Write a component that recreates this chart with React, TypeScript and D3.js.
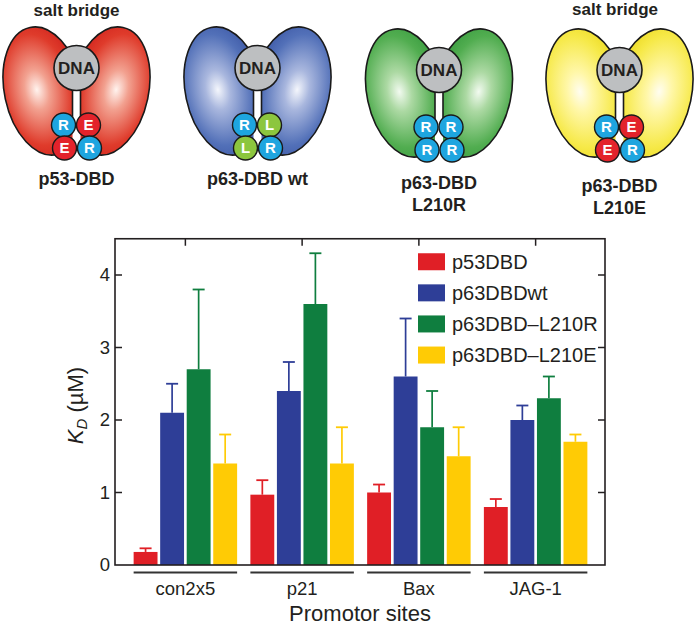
import React from "react";
import * as d3 from "d3";

// Promotor sites on the x axis
const CATEGORIES = ["con2x5", "p21", "Bax", "JAG-1"];
const SERIES = ["p53DBD", "p63DBDwt", "p63DBD–L210R", "p63DBD–L210E"];
const BAR_COLORS = ["#e01f26", "#2e3e97", "#0f7e3f", "#ffcb05"];

// K_D values (µM) per series, same order as CATEGORIES
const P53_KD = [0.18, 0.97, 1.0, 0.8];
const P53_ERR = [0.05, 0.2, 0.11, 0.11];
const WT_KD = [2.1, 2.4, 2.6, 2.0];
const WT_ERR = [0.4, 0.4, 0.8, 0.2];
const L210R_KD = [2.7, 3.6, 1.9, 2.3];
const L210R_ERR = [1.1, 0.7, 0.5, 0.3];
const L210E_KD = [1.4, 1.4, 1.5, 1.7];
const L210E_ERR = [0.4, 0.5, 0.4, 0.1];

const VALUES = [P53_KD, WT_KD, L210R_KD, L210E_KD];
const ERRORS = [P53_ERR, WT_ERR, L210R_ERR, L210E_ERR];
const Y_TICKS = [0, 1, 2, 3, 4];

// cartoons
const MOLECULE_NAMES = [["p53-DBD"], ["p63-DBD wt"], ["p63-DBD", "L210R"], ["p63-DBD", "L210E"]];
const MOLECULE_LETTERS = [["R", "E", "E", "R"], ["R", "L", "L", "R"], ["R", "R", "R", "R"], ["R", "E", "E", "R"]];
const SALT_BRIDGE = [true, false, false, true];
const LOBE_STOPS = [
  ["#fff3ee", "#f2a190", "#df3b2b", "#cf201b"],
  ["#f4f6fc", "#a9b7de", "#5270b8", "#3a55a3"],
  ["#f2faf0", "#acd9a3", "#51ad50", "#369a3d"],
  ["#fffdf0", "#fff7a8", "#f6e948", "#ebd81c"],
];
const LETTER_COLORS: Record<string, string> = { R: "#1ea5df", E: "#e3232b", L: "#8cc63e" };

const FONT = "'Liberation Sans', Arial, Helvetica, sans-serif";
const INK = "#231f20";

function Molecule({ i, cx, cy }: { i: number; cx: number; cy: number }) {
  const stops = LOBE_STOPS[i];
  const circles = [
    { x: cx - 13, y: cy + 57 },
    { x: cx + 12, y: cy + 57 },
    { x: cx - 12, y: cy + 80 },
    { x: cx + 13, y: cy + 80 },
  ];
  return (
    <g>
      <defs>
        {[0, 1].map((side) => (
          <radialGradient key={side} id={`lobe-${i}-${side}`} cx={side ? 0.58 : 0.42} cy={0.48} r={0.62}>
            <stop offset="0%" stopColor={stops[0]} />
            <stop offset="25%" stopColor={stops[1]} />
            <stop offset="70%" stopColor={stops[2]} />
            <stop offset="100%" stopColor={stops[3]} />
          </radialGradient>
        ))}
        <clipPath id={`clipL-${i}`} clipPathUnits="userSpaceOnUse">
          <rect x={cx - 90} y={cy - 60} width={86} height={170} />
        </clipPath>
        <clipPath id={`clipR-${i}`} clipPathUnits="userSpaceOnUse">
          <rect x={cx + 4} y={cy - 60} width={86} height={170} />
        </clipPath>
      </defs>
      <g clipPath={`url(#clipL-${i})`}>
        <g transform={`translate(${cx - 33},${cy + 23}) rotate(-12)`}>
          <ellipse rx={39} ry={65} fill={`url(#lobe-${i}-0)`} stroke="#1a1a1a" strokeWidth={1.6} />
        </g>
      </g>
      <g clipPath={`url(#clipR-${i})`}>
        <g transform={`translate(${cx + 33},${cy + 23}) rotate(12)`}>
          <ellipse rx={39} ry={65} fill={`url(#lobe-${i}-1)`} stroke="#1a1a1a" strokeWidth={1.6} />
        </g>
      </g>
      {/* stalk edges */}
      <line x1={cx - 4} x2={cx - 4} y1={cy + 15} y2={cy + 50} stroke="#1a1a1a" strokeWidth={1.6} />
      <line x1={cx + 4} x2={cx + 4} y1={cy + 15} y2={cy + 50} stroke="#1a1a1a" strokeWidth={1.6} />
      <circle cx={cx} cy={cy} r={22.5} fill="#bdbfc1" stroke="#1a1a1a" strokeWidth={1.6} />
      <text x={cx} y={cy + 6} textAnchor="middle" fontFamily={FONT} fontWeight="bold" fontSize={17} fill={INK}>
        DNA
      </text>
      {circles.map((c, k) => {
        const letter = MOLECULE_LETTERS[i][k];
        return (
          <g key={k}>
            <circle cx={c.x} cy={c.y} r={12} fill={LETTER_COLORS[letter]} stroke="#1a1a1a" strokeWidth={1.4} />
            <text x={c.x} y={c.y + 5.2} textAnchor="middle" fontFamily={FONT} fontWeight="bold" fontSize={15} fill="#fff">
              {letter}
            </text>
          </g>
        );
      })}
    </g>
  );
}

export default function App() {
  const W = 697;
  const H = 628;
  const margin = { left: 115, top: 238.75 };
  const pw = 490;
  const ph = 326.25;

  const x = d3.scaleBand<string>().domain(CATEGORIES).range([12, 479]);
  const inner = d3
    .scaleBand<string>()
    .domain(SERIES)
    .range([0, x.bandwidth()])
    .paddingInner(0.1)
    .paddingOuter(0.25);
  const y = d3.scaleLinear().domain([0, 4.5]).range([ph, 0]);

  const molX = [76.5, 257.5, 439, 619.5];
  const molY = [68, 68, 70, 70];
  const nameY = [185, 185, 189, 192];
  const saltY = [15.5, 15.5, 15.5, 15];
  const saltX = [76.5, 257.5, 439, 615];

  return (
    <svg width={W} height={H} style={{ position: "absolute", left: 0, top: 0, background: "#fff" }}>
      {/* Cartoons */}
      {molX.map((mx, i) => (
        <g key={i}>
          <Molecule i={i} cx={mx} cy={molY[i]} />
          {SALT_BRIDGE[i] && (
            <text x={saltX[i]} y={saltY[i]} textAnchor="middle" fontFamily={FONT} fontWeight="bold" fontSize={17} fill={INK}>
              salt bridge
            </text>
          )}
          {MOLECULE_NAMES[i].map((line, k) => (
            <text
              key={k}
              x={mx}
              y={nameY[i] + k * 22}
              textAnchor="middle"
              fontFamily={FONT}
              fontWeight="bold"
              fontSize={18}
              fill={INK}
            >
              {line}
            </text>
          ))}
        </g>
      ))}

      <g transform={`translate(${margin.left},${margin.top})`}>
        {/* Bars */}
        {CATEGORIES.map((cat, ci) => (
          <g key={cat} transform={`translate(${x(cat)},0)`}>
            {SERIES.map((s, si) => {
              const v = VALUES[si][ci];
              const e = ERRORS[si][ci];
              const bx = inner(s) || 0;
              const mid = bx + inner.bandwidth() / 2;
              return (
                <g key={s}>
                  <line x1={mid} x2={mid} y1={y(v)} y2={y(v + e)} stroke={BAR_COLORS[si]} strokeWidth={1.7} />
                  <line x1={mid - 6} x2={mid + 6} y1={y(v + e)} y2={y(v + e)} stroke={BAR_COLORS[si]} strokeWidth={1.8} />
                  <rect x={bx} y={y(v)} width={inner.bandwidth()} height={ph - y(v)} fill={BAR_COLORS[si]} />
                </g>
              );
            })}
          </g>
        ))}

        {/* Frame */}
        <rect x={0} y={0} width={pw} height={ph} fill="none" stroke={INK} strokeWidth={1.6} />

        {/* Y ticks */}
        {Y_TICKS.map((t) => (
          <g key={t}>
            {t > 0 && (
              <>
                <line x1={0} x2={7} y1={y(t)} y2={y(t)} stroke={INK} strokeWidth={1.5} />
                <line x1={pw - 7} x2={pw} y1={y(t)} y2={y(t)} stroke={INK} strokeWidth={1.5} />
              </>
            )}
            <text x={-5} y={y(t)} dy="0.35em" textAnchor="end" fontFamily={FONT} fontSize={18.5} fill={INK}>
              {t}
            </text>
          </g>
        ))}

        {/* Top ticks at category centers */}
        {CATEGORIES.map((cat) => {
          const cx = (x(cat) || 0) + x.bandwidth() / 2;
          return <line key={cat} x1={cx} x2={cx} y1={0} y2={7} stroke={INK} strokeWidth={1.5} />;
        })}

        {/* Category underlines and labels */}
        {CATEGORIES.map((cat) => {
          const x0 = (x(cat) || 0) + (inner(SERIES[0]) || 0);
          const x1 = (x(cat) || 0) + (inner(SERIES[SERIES.length - 1]) || 0) + inner.bandwidth();
          return (
            <g key={cat}>
              <line x1={x0} x2={x1} y1={ph + 7.5} y2={ph + 7.5} stroke="#333" strokeWidth={2} />
              <text x={(x0 + x1) / 2} y={ph + 30} textAnchor="middle" fontFamily={FONT} fontSize={18.5} fill={INK}>
                {cat}
              </text>
            </g>
          );
        })}
        <text x={pw / 2} y={ph + 56} textAnchor="middle" fontFamily={FONT} fontSize={22} fill={INK}>
          Promotor sites
        </text>

        {/* Y title */}
        <text
          transform={`translate(${-32},${y(2.2)}) rotate(-90)`}
          textAnchor="middle"
          fontFamily={FONT}
          fontSize={22}
          fill={INK}
        >
          <tspan fontStyle="italic">K</tspan>
          <tspan fontStyle="italic" fontSize={15} dy={4}>D</tspan>
          <tspan dy={-4}> (µM)</tspan>
        </text>

        {/* Legend */}
        {SERIES.map((s, si) => (
          <g key={s} transform={`translate(${303},${14.5 + si * 31.1})`}>
            <rect x={0} y={0} width={27} height={17} fill={BAR_COLORS[si]} />
            <text x={34} y={8.5} dy="0.36em" fontFamily={FONT} fontSize={20} fill={INK}>
              {s}
            </text>
          </g>
        ))}
      </g>
    </svg>
  );
}
